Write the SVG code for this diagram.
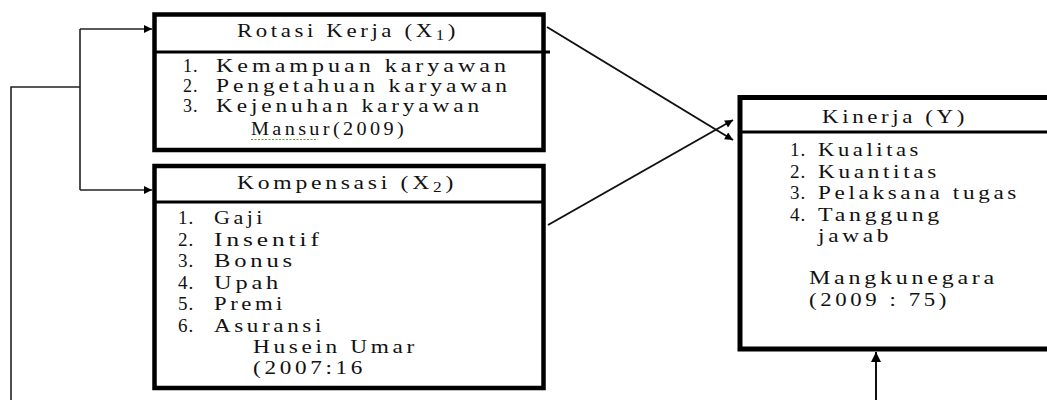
<svg xmlns="http://www.w3.org/2000/svg" width="1047" height="400" viewBox="0 0 1047 400">
  <style>
    .box { fill: #fff; stroke: #000; }
    .sep { stroke: #000; stroke-width: 3; }
    .t { font-family: "Liberation Serif", "Times New Roman", serif; font-size: 19px; fill: #111; letter-spacing: 3px; }
    .sm { font-size: 18px; }
    .num { letter-spacing: 1px; }
    .wire { fill: none; stroke: #222; stroke-width: 1.6; }
    .link { fill: none; stroke: #111; stroke-width: 2; }
  </style>
  <defs>
    <marker id="head" viewBox="0 0 10 10" refX="10" refY="5" markerWidth="12" markerHeight="8" markerUnits="userSpaceOnUse" orient="auto">
      <path d="M0,0 L10,5 L0,10 Z" fill="#000"/>
    </marker>
    <marker id="headLg" viewBox="0 0 10 10" refX="10" refY="5" markerWidth="11" markerHeight="10" markerUnits="userSpaceOnUse" orient="auto">
      <path d="M0,0 L10,5 L0,10 Z" fill="#000"/>
    </marker>
  </defs>

  <rect width="1047" height="400" fill="#fff"/>

  <!-- Rotasi Kerja (X1) -->
  <g id="node-rotasi">
    <rect class="box" x="154.5" y="14.5" width="389" height="135.5" stroke-width="4.5"/>
    <line class="sep" x1="155" y1="52" x2="550" y2="52"/>
    <text class="t" x="237" y="37" textLength="222" lengthAdjust="spacingAndGlyphs">Rotasi Kerja (X<tspan font-size="14" dy="3">1</tspan><tspan dy="-3">)</tspan></text>
    <text class="t sm num" x="183" y="72">1.</text>
    <text class="t sm" x="216" y="72" textLength="294" lengthAdjust="spacingAndGlyphs">Kemampuan karyawan</text>
    <text class="t sm num" x="183" y="92">2.</text>
    <text class="t sm" x="216" y="92" textLength="295" lengthAdjust="spacingAndGlyphs">Pengetahuan karyawan</text>
    <text class="t sm num" x="183" y="112">3.</text>
    <text class="t sm" x="216" y="112" textLength="267" lengthAdjust="spacingAndGlyphs">Kejenuhan karyawan</text>
    <text class="t sm" x="251" y="135" textLength="156" lengthAdjust="spacingAndGlyphs">Mansur(2009)</text>
    <path d="M251,139.5 L318,139.5" stroke="#6a9a3a" stroke-width="1.2" stroke-dasharray="2 1.5" fill="none"/>
  </g>

  <!-- Kompensasi (X2) -->
  <g id="node-kompensasi">
    <rect class="box" x="154.5" y="166" width="389" height="222" stroke-width="4.5"/>
    <line class="sep" x1="155" y1="202" x2="543" y2="202"/>
    <text class="t" x="237" y="189" textLength="220" lengthAdjust="spacingAndGlyphs">Kompensasi (X<tspan font-size="14" dy="3">2</tspan><tspan dy="-3">)</tspan></text>
    <text class="t num" x="178" y="224">1.</text>
    <text class="t" x="214" y="224" textLength="52" lengthAdjust="spacingAndGlyphs">Gaji</text>
    <text class="t num" x="178" y="245.5">2.</text>
    <text class="t" x="214" y="245.5" textLength="109" lengthAdjust="spacingAndGlyphs">Insentif</text>
    <text class="t num" x="178" y="267">3.</text>
    <text class="t" x="214" y="267" textLength="82" lengthAdjust="spacingAndGlyphs">Bonus</text>
    <text class="t num" x="178" y="288.5">4.</text>
    <text class="t" x="214" y="288.5" textLength="68" lengthAdjust="spacingAndGlyphs">Upah</text>
    <text class="t num" x="178" y="310">5.</text>
    <text class="t" x="214" y="310" textLength="72" lengthAdjust="spacingAndGlyphs">Premi</text>
    <text class="t num" x="178" y="331.5">6.</text>
    <text class="t" x="214" y="331.5" textLength="111" lengthAdjust="spacingAndGlyphs">Asuransi</text>
    <text class="t" x="253" y="353" textLength="165" lengthAdjust="spacingAndGlyphs">Husein Umar</text>
    <text class="t" x="253" y="374" textLength="113" lengthAdjust="spacingAndGlyphs">(2007:16</text>
  </g>

  <!-- Kinerja (Y) -->
  <g id="node-kinerja">
    <rect class="box" x="740" y="97.5" width="330" height="251.5" stroke-width="5"/>
    <line class="sep" x1="740" y1="132" x2="1047" y2="132"/>
    <text class="t" x="822" y="123" textLength="146" lengthAdjust="spacingAndGlyphs">Kinerja (Y)</text>
    <text class="t num" x="790" y="156">1.</text>
    <text class="t" x="818" y="156" textLength="104" lengthAdjust="spacingAndGlyphs">Kualitas</text>
    <text class="t num" x="790" y="177.5">2.</text>
    <text class="t" x="818" y="177.5" textLength="122" lengthAdjust="spacingAndGlyphs">Kuantitas</text>
    <text class="t num" x="790" y="199">3.</text>
    <text class="t" x="818" y="199" textLength="202" lengthAdjust="spacingAndGlyphs">Pelaksana tugas</text>
    <text class="t num" x="790" y="220.5">4.</text>
    <text class="t" x="818" y="220.5" textLength="125" lengthAdjust="spacingAndGlyphs">Tanggung</text>
    <text class="t" x="818" y="242" textLength="74" lengthAdjust="spacingAndGlyphs">jawab</text>
    <text class="t" x="809" y="284" textLength="189" lengthAdjust="spacingAndGlyphs">Mangkunegara</text>
    <text class="t" x="809" y="306" textLength="141" lengthAdjust="spacingAndGlyphs">(2009 : 75)</text>
  </g>

  <!-- connectors -->
  <g id="connectors">
    <path class="wire" d="M11,400 L11,87 L80,87"/>
    <path class="wire" d="M80,29 L80,190"/>
    <path class="wire" d="M80,29 L152,29" marker-end="url(#head)"/>
    <path class="wire" d="M80,190 L152,190" marker-end="url(#head)"/>
    <path class="link" d="M547,27 L733,140" marker-end="url(#head)"/>
    <path class="link" d="M548,225 L733,120" marker-end="url(#head)"/>
    <path class="link" d="M876,400 L876,352" marker-end="url(#headLg)"/>
  </g>
</svg>
